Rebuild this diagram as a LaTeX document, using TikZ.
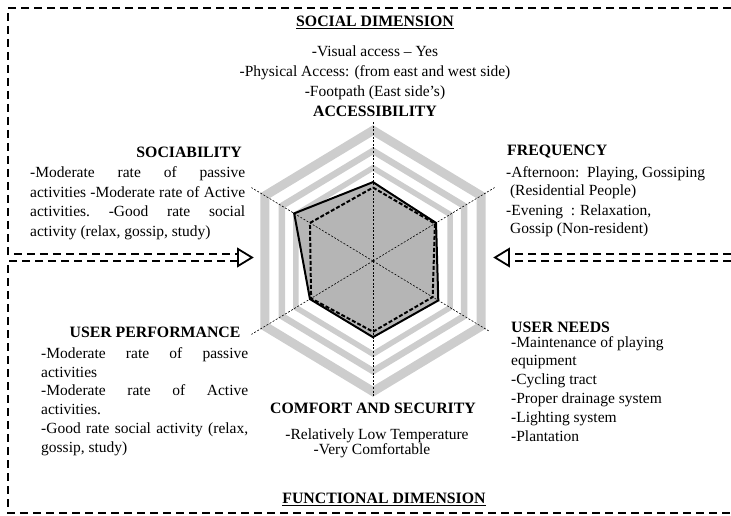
\documentclass[tikz,border=0pt]{standalone}
\usepackage{fontspec}
\setmainfont{Liberation Serif}
\definecolor{bandgray}{HTML}{CDCDCD}
\definecolor{datagray}{HTML}{B5B5B5}
\tikzset{
  dimline/.style={line width=1.8pt, dash pattern=on 8pt off 5pt},
  tipline/.style={line width=1.8pt, line join=miter},
  band/.style={draw=bandgray, line join=miter},
  axisline/.style={line width=0.6pt, dash pattern=on 2pt off 1.6pt},
  head/.style={font=\fontsize{15.8}{19}\selectfont\bfseries, inner sep=0pt},
  body/.style={font=\fontsize{15.5}{19}\selectfont, inner sep=0pt},
}
\begin{document}
\begin{tikzpicture}[x=1pt,y=-1pt]
\useasboundingbox (0,0) rectangle (731,516);

% ---------- radar chart ----------
\begin{scope}[shift={(373,261)}, x=130pt, y=136pt]
  \coordinate (ctr) at (0,0);
  \draw[band, line width=9pt]   (90:0.96) -- (30:0.96) -- (-30:0.96) -- (-90:0.96) -- (-150:0.96) -- (150:0.96) -- cycle;
  \draw[band, line width=6.5pt] (90:0.81) -- (30:0.81) -- (-30:0.81) -- (-90:0.81) -- (-150:0.81) -- (150:0.81) -- cycle;
  \draw[band, line width=5.5pt] (90:0.685) -- (30:0.685) -- (-30:0.685) -- (-90:0.685) -- (-150:0.685) -- (150:0.685) -- cycle;
  \fill[datagray] (90:0.58) -- (30:0.56) -- (-30:0.58) -- (-90:0.56) -- (-150:0.56) -- (150:0.70) -- cycle;
  \foreach \a/\n/\r in {90/A/1.03,30/F/1.08,-30/N/1.04,-90/C/1.0,-150/P/1.08,150/S/1.08}{
    \coordinate (ax\n) at (\a:\r);
    \draw[axisline] (ctr) -- (ax\n);
  }
  \draw[line width=2pt, dash pattern=on 4pt off 2pt, line join=miter]
    (90:0.54) -- (30:0.55) -- (-30:0.53) -- (-90:0.52) -- (-150:0.55) -- (150:0.56) -- cycle;
  \draw[line width=2pt, line join=miter]
    (90:0.58) -- (30:0.56) -- (-30:0.58) -- (-90:0.56) -- (-150:0.56) -- (150:0.70) -- cycle;
\end{scope}

% ---------- dimension frames ----------
\coordinate (tr) at (731,8);
\coordinate (tl) at (8,8);
\coordinate (ml1) at (8,254);
\coordinate (ml2) at (8,261);
\coordinate (bl) at (8,513);
\coordinate (br) at (731,513);
\coordinate (lt1) at (238,254);
\coordinate (lt2) at (238,261);
\coordinate (ltip) at (252,257.5);
\coordinate (rr1) at (731,254);
\coordinate (rr2) at (731,261);
\coordinate (rt1) at (509,254);
\coordinate (rt2) at (509,261);
\coordinate (rtip) at (495,257.5);

\draw[dimline] (tr) -- (tl) -- (ml1) -- (lt1);
\draw[dimline] (lt2) -- (ml2) -- (bl) -- (br);
\draw[tipline] (238,249) -- (ltip) -- (238,266) -- cycle;
\draw[dimline] (rr1) -- (rt1);
\draw[dimline] (rr2) -- (rt2);
\draw[tipline] (509,249) -- (rtip) -- (509,266) -- cycle;

% ---------- social dimension ----------
\node[head] (social) at (375,22) {\underline{SOCIAL DIMENSION}};
\node[body, anchor=base] (acc1) at (375,57) {-Visual access -- Yes};
\node[body, anchor=base] (acc2) at (375,77) {-Physical Access: (from east and west side)};
\node[body, anchor=base] (acc3) at (375,97) {-Footpath (East side's)};
\node[head] (acc) at (375,111) {ACCESSIBILITY};

\node[head, anchor=east] (soc) at (242,152) {SOCIABILITY};
\node[body, anchor=base west] (soc1) at (30,177) {\hbox to 215pt{-Moderate\hfill rate\hfill of\hfill passive}};
\node[body, anchor=base west] (soc2) at (30,197) {\hbox to 215pt{activities\hfill -Moderate\hfill rate\hfill of\hfill Active}};
\node[body, anchor=base west] (soc3) at (30,216) {\hbox to 215pt{activities.\hfill -Good\hfill rate\hfill social}};
\node[body, anchor=base west] (soc4) at (30,236) {activity (relax, gossip, study)};

\node[head, anchor=west] (freq) at (507,152) {FREQUENCY};
\node[body, anchor=base west] (freq1) at (506,177) {-Afternoon:\ \ Playing, Gossiping};
\node[body, anchor=base west] (freq2) at (506,195) {\ (Residential People)};
\node[body, anchor=base west] (freq3) at (506,215) {-Evening\ \ : Relaxation,};
\node[body, anchor=base west] (freq4) at (506,233) {\ Gossip (Non-resident)};

% ---------- functional dimension ----------
\node[head] (up) at (155,332) {USER PERFORMANCE};
\node[body, anchor=base west] (up1) at (41,358) {\hbox to 207pt{-Moderate\hfill rate\hfill of\hfill passive}};
\node[body, anchor=base west] (up2) at (41,377) {activities};
\node[body, anchor=base west] (up3) at (41,395) {\hbox to 207pt{-Moderate\hfill rate\hfill of\hfill Active}};
\node[body, anchor=base west] (up4) at (41,414) {activities.};
\node[body, anchor=base west] (up5) at (41,433) {\hbox to 207pt{-Good\hfill rate\hfill social\hfill activity\hfill (relax,}};
\node[body, anchor=base west] (up6) at (41,452) {gossip, study)};

\node[head, anchor=west] (un) at (511,327) {USER NEEDS};
\node[body, anchor=base west] (un1) at (511,347) {-Maintenance of playing};
\node[body, anchor=base west] (un2) at (511,365) {equipment};
\node[body, anchor=base west] (un3) at (511,384) {-Cycling tract};
\node[body, anchor=base west] (un4) at (511,403) {-Proper drainage system};
\node[body, anchor=base west] (un5) at (511,422) {-Lighting system};
\node[body, anchor=base west] (un6) at (511,441) {-Plantation};

\node[head] (cs) at (373,408) {COMFORT AND SECURITY};
\node[body, anchor=base] (cs1) at (377,439) {-Relatively Low Temperature};
\node[body, anchor=base] (cs2) at (372,454) {-Very Comfortable};

\node[head] (func) at (384,499) {\underline{FUNCTIONAL DIMENSION}};
\end{tikzpicture}
\end{document}
